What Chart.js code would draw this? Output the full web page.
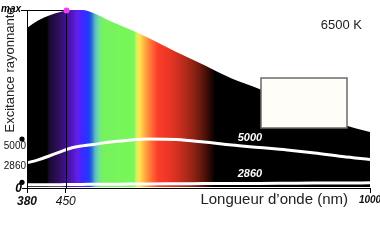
<!DOCTYPE html>
<html>
<head>
<meta charset="utf-8">
<script src="https://cdn.jsdelivr.net/npm/chart.js@4/dist/chart.umd.min.js"></script>
<style>
  html, body { margin: 0; padding: 0; background: #fff; }
  canvas { display: block; }
</style>
</head>
<body>
<canvas id="c" width="380" height="250"></canvas>
<script>
// wavelengths (nm) and relative radiant exitance
const wavelengths = [380, 400, 420, 440, 460, 480, 500, 530, 560, 600, 650, 700, 750, 800, 850, 900, 950, 1000];
const curve6500 = [0.898, 0.94, 0.969, 0.989, 1.0, 1.0, 0.983, 0.938, 0.898, 0.842, 0.763, 0.689, 0.613, 0.554, 0.49, 0.43, 0.356, 0.31];
const curve5000 = [0.136, 0.153, 0.175, 0.198, 0.22, 0.232, 0.24, 0.254, 0.263, 0.271, 0.268, 0.254, 0.237, 0.223, 0.209, 0.192, 0.172, 0.155];
const curve2860 = [0.012, 0.012, 0.013, 0.013, 0.014, 0.014, 0.015, 0.015, 0.016, 0.017, 0.018, 0.019, 0.02, 0.02, 0.021, 0.022, 0.022, 0.023];

const xTicks = [380, 450, 1000];
const peakNm = 450;
const peak5000 = 0.271;
const end2860 = 0.026;
const labelNm = 783;

// visible spectrum colour stops, by wavelength
const specNm = [416, 420, 436, 450, 463, 472, 476, 487, 492, 497, 503, 510, 517, 573, 579, 584, 591, 599, 608, 617, 635, 657, 675, 693, 707, 720];
const specColors = ['#000000', '#1a0a2e', '#2e0e5a', '#401290', '#5418c4', '#6620ee', '#4a22ff', '#3030ff', '#1a40f8', '#2a6ad8',
  '#5cb8c8', '#6ee0a0', '#76f25e', '#78f858', '#e0f060', '#ffe050', '#ffb842', '#ff8c3a', '#ff6032', '#fc3c2a',
  '#ee3626', '#c82e1e', '#a02616', '#6c1a0e', '#3a0c06', '#000000'];

const FONT = 'Liberation Sans, Arial, sans-serif';

function spectrumFill(context) {
  const chart = context.chart;
  const a = chart.chartArea;
  if (!a) return '#000';
  const x = chart.scales.x;
  const g = chart.ctx.createLinearGradient(a.left, 0, a.right, 0);
  g.addColorStop(0, '#000');
  specNm.forEach((nm, i) => {
    const p = (x.getPixelForValue(nm) - a.left) / (a.right - a.left);
    g.addColorStop(Math.min(1, Math.max(0, p)), specColors[i]);
  });
  g.addColorStop(1, '#000');
  return g;
}

function tickFont(v) {
  if (v === 450) return { family: FONT, size: 12, style: 'italic', weight: 'normal' };
  if (v === 1000) return { family: FONT, size: 10, style: 'italic', weight: 'bold' };
  return { family: FONT, size: 12, style: 'italic', weight: 'bold' };
}

const overlay = {
  id: 'overlay',
  afterDatasetsDraw(chart) {
    const { ctx, chartArea: a, scales: { x, y } } = chart;
    ctx.save();

    // curve labels
    ctx.fillStyle = '#fff';
    ctx.font = 'italic bold 11px ' + FONT;
    ctx.textAlign = 'center';
    ctx.textBaseline = 'middle';
    const lx = x.getPixelForValue(labelNm);
    const idx = wavelengths.indexOf(800);
    ctx.fillText('5000', lx, chart.getDatasetMeta(1).data[idx].y - 10);
    ctx.fillText('2860', lx, chart.getDatasetMeta(2).data[idx].y - 9);

    // empty box
    ctx.fillStyle = '#fffdf8';
    ctx.strokeStyle = '#6e6a66';
    ctx.lineWidth = 1.5;
    ctx.fillRect(261, 78, 86, 50);
    ctx.strokeRect(261, 78, 86, 50);

    // y axis line
    ctx.strokeStyle = '#000';
    ctx.lineWidth = 1;
    ctx.beginPath();
    ctx.moveTo(a.left + 0.5, y.getPixelForValue(1));
    ctx.lineTo(a.left + 0.5, a.bottom);
    ctx.stroke();

    // peak guide lines
    const px = Math.round(x.getPixelForValue(peakNm)) + 0.5;
    const py = Math.round(y.getPixelForValue(1)) + 0.5;
    ctx.beginPath();
    ctx.moveTo(21, py);
    ctx.lineTo(px, py);
    ctx.moveTo(px, py);
    ctx.lineTo(px, a.bottom);
    ctx.stroke();

    // zero tick
    const zy = Math.round(y.getPixelForValue(0)) + 1.5;
    ctx.beginPath();
    ctx.moveTo(22, zy);
    ctx.lineTo(a.left, zy);
    ctx.stroke();

    // peak marker
    ctx.fillStyle = '#f03cf0';
    ctx.beginPath();
    ctx.arc(px, py, 3, 0, Math.PI * 2);
    ctx.fill();

    // left dots for the lower curves
    ctx.fillStyle = '#000';
    const d1 = y.getPixelForValue(peak5000);
    const d2 = y.getPixelForValue(end2860);
    [d1, d2].forEach(dy => {
      ctx.beginPath();
      ctx.arc(a.left - 5, dy, 2.6, 0, Math.PI * 2);
      ctx.fill();
    });

    // y labels
    ctx.textAlign = 'right';
    ctx.textBaseline = 'middle';
    ctx.font = 'italic bold 10px ' + FONT;
    ctx.fillText('max', 21, py - 1);
    ctx.font = 'italic bold 12px ' + FONT;
    ctx.fillText('0', 22, zy);
    ctx.font = '10px ' + FONT;
    ctx.fillStyle = '#111';
    ctx.fillText('5000', 26, d1 + 7);
    ctx.fillText('2860', 26, d2 - 16);

    // titles
    ctx.fillStyle = '#222';
    ctx.font = '13px ' + FONT;
    ctx.fillText('6500 K', 362, 25);
    ctx.font = '15px ' + FONT;
    ctx.fillText('Longueur d\u2019onde (nm)', 348, 200);
    ctx.translate(10, 70);
    ctx.rotate(-Math.PI / 2);
    ctx.textAlign = 'center';
    ctx.font = '13px ' + FONT;
    ctx.fillText('Excitance rayonnante', 0, 0);
    ctx.restore();
  }
};

new Chart(document.getElementById('c'), {
  type: 'line',
  data: {
    labels: wavelengths,
    datasets: [
      {
        label: '6500',
        data: wavelengths.map((w, i) => ({ x: w, y: curve6500[i] })),
        borderWidth: 0,
        pointRadius: 0,
        fill: 'origin',
        backgroundColor: spectrumFill,
        cubicInterpolationMode: 'monotone',
        order: 3
      },
      {
        label: '5000',
        data: wavelengths.map((w, i) => ({ x: w, y: curve5000[i] })),
        borderColor: '#fff',
        borderWidth: 3,
        pointRadius: 0,
        fill: false,
        cubicInterpolationMode: 'monotone',
        order: 1
      },
      {
        label: '2860',
        data: wavelengths.map((w, i) => ({ x: w, y: curve2860[i] })),
        borderColor: '#fff',
        borderWidth: 3,
        pointRadius: 0,
        fill: false,
        cubicInterpolationMode: 'monotone',
        order: 2
      }
    ]
  },
  options: {
    responsive: false,
    animation: false,
    devicePixelRatio: 1,
    layout: { padding: { left: 27, right: 10, top: 10, bottom: 0 } },
    plugins: { legend: { display: false }, tooltip: { enabled: false } },
    scales: {
      x: {
        type: 'linear',
        min: 380,
        max: 1000,
        afterBuildTicks: s => { s.ticks = xTicks.map(v => ({ value: v })); },
        afterFit: s => { s.height = 62; s.paddingLeft = 0; s.paddingRight = 0; },
        grid: { drawOnChartArea: false, tickLength: 5, color: '#000' },
        border: { color: '#000', width: 1 },
        ticks: {
          autoSkip: false,
          maxRotation: 0,
          padding: 1,
          color: '#111',
          font: c => tickFont(c.tick ? c.tick.value : 380),
          callback: v => String(v)
        }
      },
      y: { display: false, min: -0.006, max: 1 }
    }
  },
  plugins: [overlay]
});
</script>
</body>
</html>
